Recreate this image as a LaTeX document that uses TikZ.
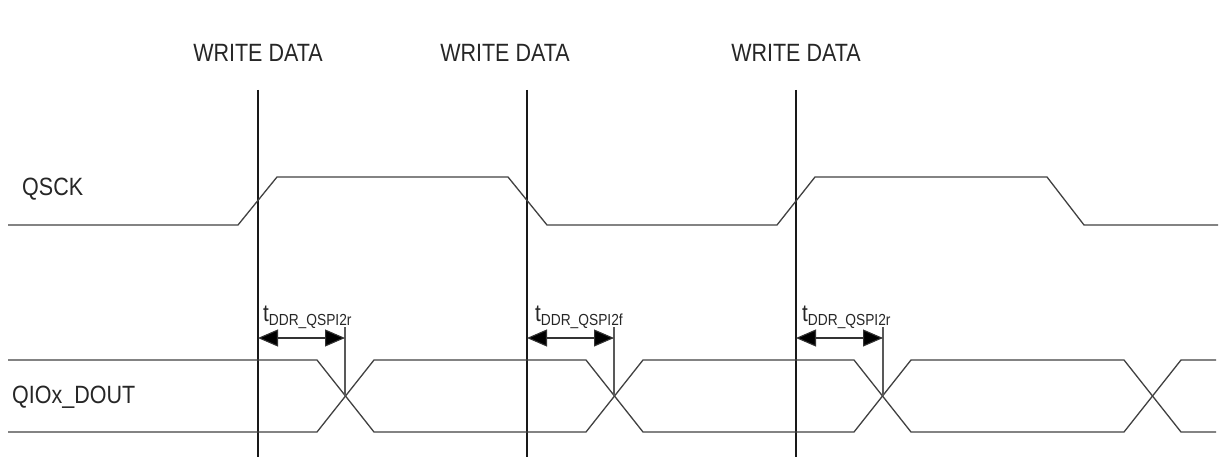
\documentclass[tikz,border=0pt]{standalone}
\usepackage{fontspec}
\setmainfont[FakeStretch=0.86]{Liberation Sans}
\usetikzlibrary{arrows.meta}
\newcommand{\tdly}[1]{{\fontsize{24}{28}\selectfont t}\raisebox{-4pt}{\fontsize{16}{18}\selectfont DDR\_QSPI2#1}}

\begin{document}
\begin{tikzpicture}[x=1pt,y=-1pt,
  sig/.style={line width=1.3pt,black!75,line join=miter},
  refline/.style={line width=1.1pt,black!90},
  tickline/.style={line width=1.1pt,black!65},
  dim/.style={{Triangle[length=20pt,width=17pt,fill=black]}-{Triangle[length=20pt,width=17pt,fill=black]},
              line width=1.1pt,black!80},
  lbl/.style={font=\fontsize{25}{30}\selectfont,inner sep=0pt,black!85}]
\useasboundingbox (0,0) rectangle (1220,476);

% labels
\node[lbl,anchor=base] (wd1) at (258,62) {WRITE DATA};
\node[lbl,anchor=base] (wd2) at (505,62) {WRITE DATA};
\node[lbl,anchor=base] (wd3) at (796,62) {WRITE DATA};
\node[lbl,anchor=base west] (qsck) at (22,195) {QSCK};
\node[lbl,anchor=base west] (qio) at (12,403) {QIOx\_DOUT};

% reference lines
\coordinate (v1) at (258,90);
\coordinate (v2) at (527,90);
\coordinate (v3) at (796,90);
\draw[refline] (v1) -- ++(0,367);
\draw[refline] (v2) -- ++(0,367);
\draw[refline] (v3) -- ++(0,367);

% clock
\draw[sig] (8,225) -- (238,225) -- (277,177) -- (508,177) -- (547,225) -- (777,225)
  -- (815,177) -- (1047,177) -- (1084,225) -- (1218,225);

% data
\draw[sig] (8,360) -- (317,360) -- (374,432) -- (586,432) -- (643,360) -- (854,360)
  -- (911,432) -- (1124,432) -- (1181,360) -- (1216,360);
\draw[sig] (8,432) -- (317,432) -- (374,360) -- (586,360) -- (643,432) -- (854,432)
  -- (911,360) -- (1124,360) -- (1181,432) -- (1216,432);

% crossings and delays
\coordinate (c1) at (345,396);
\coordinate (c2) at (614,396);
\coordinate (c3) at (883,396);
\draw[tickline] (c1) -- ++(0,-69);
\draw[tickline] (c2) -- ++(0,-69);
\draw[tickline] (c3) -- ++(0,-69);
\draw[dim] (v1 |- 0,338) -- (c1 |- 0,338);
\draw[dim] (v2 |- 0,338) -- (c2 |- 0,338);
\draw[dim] (v3 |- 0,338) -- (c3 |- 0,338);
\node[anchor=base west,inner sep=0pt,black!85] (t1) at (263,321) {\tdly{r}};
\node[anchor=base west,inner sep=0pt,black!85] (t2) at (535,321) {\tdly{f}};
\node[anchor=base west,inner sep=0pt,black!85] (t3) at (802,321) {\tdly{r}};
\end{tikzpicture}
\end{document}
